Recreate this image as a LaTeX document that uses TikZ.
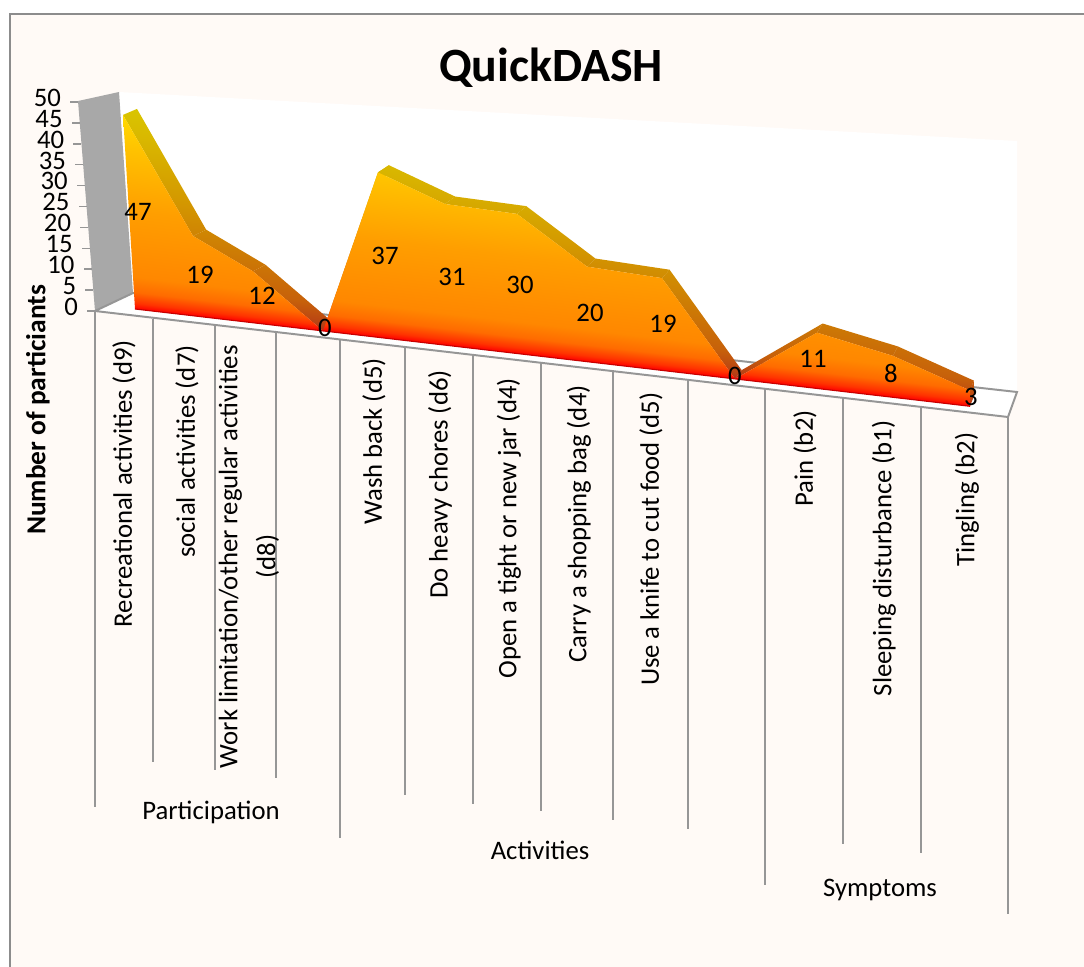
\documentclass[tikz,border=0pt]{standalone}
\usepackage{fontspec}
\setmainfont{Carlito}
\usetikzlibrary{calc}
\definecolor{gridgray}{RGB}{150,150,150}
\definecolor{framegray}{RGB}{140,140,140}
\definecolor{wallgray}{RGB}{168,168,168}
\definecolor{chartbg}{RGB}{255,250,246}
\definecolor{baseedge}{RGB}{200,0,0}
\newcommand\chartfont{\fontsize{19}{23}\selectfont}
\newcommand\titlefont{\fontsize{34}{40}\selectfont\bfseries}
% front face: red at the floor, yellow near 50
\pgfdeclareverticalshading{areafront}{100bp}{rgb(0bp)=(0.85,0,0); rgb(25bp)=(0.85,0,0); rgb(25.8bp)=(1,0.02,0); rgb(27bp)=(1,0.2,0); rgb(29.5bp)=(1,0.42,0); rgb(33bp)=(1,0.53,0); rgb(48bp)=(1,0.62,0); rgb(62bp)=(1,0.76,0); rgb(72bp)=(1,0.88,0); rgb(100bp)=(1,0.9,0)}
% top of the area, darker
\pgfdeclareverticalshading{arearibbon}{100bp}{rgb(0bp)=(0.7,0.15,0.1); rgb(25bp)=(0.7,0.15,0.1); rgb(27bp)=(0.72,0.25,0.08); rgb(32bp)=(0.78,0.38,0.04); rgb(40bp)=(0.8,0.47,0.02); rgb(52bp)=(0.83,0.6,0); rgb(65bp)=(0.85,0.72,0); rgb(75bp)=(0.85,0.8,0); rgb(100bp)=(0.85,0.8,0)}
\tikzset{
    gridline/.style={draw=gridgray, line width=1.4pt},
    ticklabel/.style={anchor=east, font=\chartfont, inner sep=0pt, text height=0.62em, text depth=0pt, xshift=-12pt},
    catlabel/.style={rotate=90, anchor=east, font=\chartfont, inner sep=0pt},
    vallabel/.style={font=\chartfont, inner sep=0pt},
    grouplabel/.style={font=\chartfont, inner sep=0pt},
    floorshear/.style={transform canvas={cm={1,-0.1165,0,1,(0,0)}}}
}

\begin{document}
\begin{tikzpicture}[x=0.025cm, y=-0.025cm]
	\useasboundingbox (0,0) rectangle (1084,966);
	\clip (0,0) rectangle (1084,966);

	% chart area
	\draw[draw=framegray, line width=1.4pt, fill=chartbg] (10,14) rectangle (1110,990);
	\node[font=\titlefont] (title) at (551,68) {QuickDASH};

	% walls and floor
	\fill[white] (119,92) -- (1017,141) -- (1017,392) -- (133,293) -- cycle;
	\fill[wallgray] (78,101) -- (119,92) -- (133,293) -- (95,311) -- cycle;
	\draw[gridline, fill=white] (95,311) -- (133,293) -- (1017,392) -- (1008,417) -- cycle;

	% value axis
	\foreach \v in {0,5,...,50}{
		\coordinate (t\v) at ({95-0.34*\v},{311-4.18*\v});
		\draw[draw=gridgray, line width=1pt] (t\v) -- ++(-8,0);
		\node[ticklabel] (tl\v) at (t\v) {\v};
	}
	\node[rotate=90, font=\fontsize{19.5}{23}\selectfont\bfseries, inner sep=0pt] (ytitle) at (38,410) {Number of particiants};

	% data points: front top (f), back top (b), floor (a)
	\coordinate (a0) at (135,309);
	\foreach \i/\x/\v in {1/123/47,2/193/19,3/253/12,4/323/0,5/378/37,6/445/31,7/517/30,8/587/20,9/662/19,10/735/0,11/817/11,12/893/8,13/970/3}{
		\pgfmathsetmacro\yb{309+(\x-135)*0.1165}
		\pgfmathsetmacro\k{4.1+(\x-123)*0.0014}
		\pgfmathsetmacro\yt{\yb-\v*\k}
		\pgfmathsetmacro\dx{14-(\x-123)*0.012}
		\pgfmathsetmacro\dy{-6-(\x-123)*0.0045}
		\coordinate (a\i) at (\x,\yb);
		\coordinate (f\i) at (\x,\yt);
		\coordinate (b\i) at (\x+\dx,\yt+\dy);
	}
	\coordinate (e13) at ($(a13)+(b13)-(f13)$);

	% top of the area
	\foreach \i [evaluate=\i as \j using int(\i+1)] in {1,...,12}{
		\begin{scope}
			\clip (f\i) -- (f\j) -- (b\j) -- (b\i) -- cycle;
			\begin{scope}[floorshear]
				\shade[shading=arearibbon] (100,296) rectangle (1020,78);
			\end{scope}
		\end{scope}
	}
	\begin{scope}
		\clip (a13) -- (f13) -- (b13) -- (e13) -- cycle;
		\begin{scope}[floorshear]
			\shade[shading=arearibbon] (100,296) rectangle (1020,78);
		\end{scope}
	\end{scope}

	% front of the area
	\begin{scope}
		\clip (a0) -- (f1) -- (f2) -- (f3) -- (f4) -- (f5) -- (f6) -- (f7) -- (f8) -- (f9) -- (f10) -- (f11) -- (f12) -- (f13) -- (a13) -- cycle;
		\begin{scope}[floorshear]
			\shade[shading=areafront] (100,296) rectangle (1020,78);
		\end{scope}
	\end{scope}
	\draw[draw=baseedge, line width=0.8pt] (a0) -- (a13);

	% data labels
	\node[vallabel] (v1) at (138,212) {47};
	\node[vallabel] (v2) at (200,275) {19};
	\node[vallabel] (v3) at (262,296) {12};
	\node[vallabel] (v4) at (325,328) {0};
	\node[vallabel] (v5) at (385,256) {37};
	\node[vallabel] (v6) at (452,277) {31};
	\node[vallabel] (v7) at (520,285) {30};
	\node[vallabel] (v8) at (590,313) {20};
	\node[vallabel] (v9) at (663,324) {19};
	\node[vallabel] (v10) at (735,376) {0};
	\node[vallabel] (v11) at (813,359) {11};
	\node[vallabel] (v12) at (891,373) {8};
	\node[vallabel] (v13) at (971,397) {3};

	% category dividers
	\foreach \x/\yb in {95/807,153/762,215/770,276/778,340/838,405/795,473/804,541/811,613/820,688/829,765/885,843/844,921/853,1008/914}{
		\draw[gridline] (\x,{312+(\x-93)*0.1148}) -- (\x,\yb);
	}

	% category labels
	\node[catlabel] (c1) at (124,340) {Recreational activities (d9)};
	\node[catlabel] (c2) at (187,345) {social activities (d7)};
	\node[catlabel, align=center, font=\fontsize{19}{27}\selectfont] (c3) at (249,345) {Work limitation/other regular activities\\(d8)};
	\node[catlabel] (c5) at (374,358) {Wash back (d5)};
	\node[catlabel] (c6) at (440,370) {Do heavy chores (d6)};
	\node[catlabel] (c7) at (509,378) {Open a tight or new jar (d4)};
	\node[catlabel] (c8) at (579,385) {Carry a shopping bag (d4)};
	\node[catlabel] (c9) at (651,392) {Use a knife to cut food (d5)};
	\node[catlabel] (c11) at (805,410) {Pain (b2)};
	\node[catlabel] (c12) at (884,420) {Sleeping disturbance (b1)};
	\node[catlabel] (c13) at (967,432) {Tingling (b2)};

	% groups
	\node[grouplabel] (g1) at (211,812) {Participation};
	\node[grouplabel] (g2) at (540,850) {Activities};
	\node[grouplabel] (g3) at (880,890) {Symptoms};
\end{tikzpicture}
\end{document}
